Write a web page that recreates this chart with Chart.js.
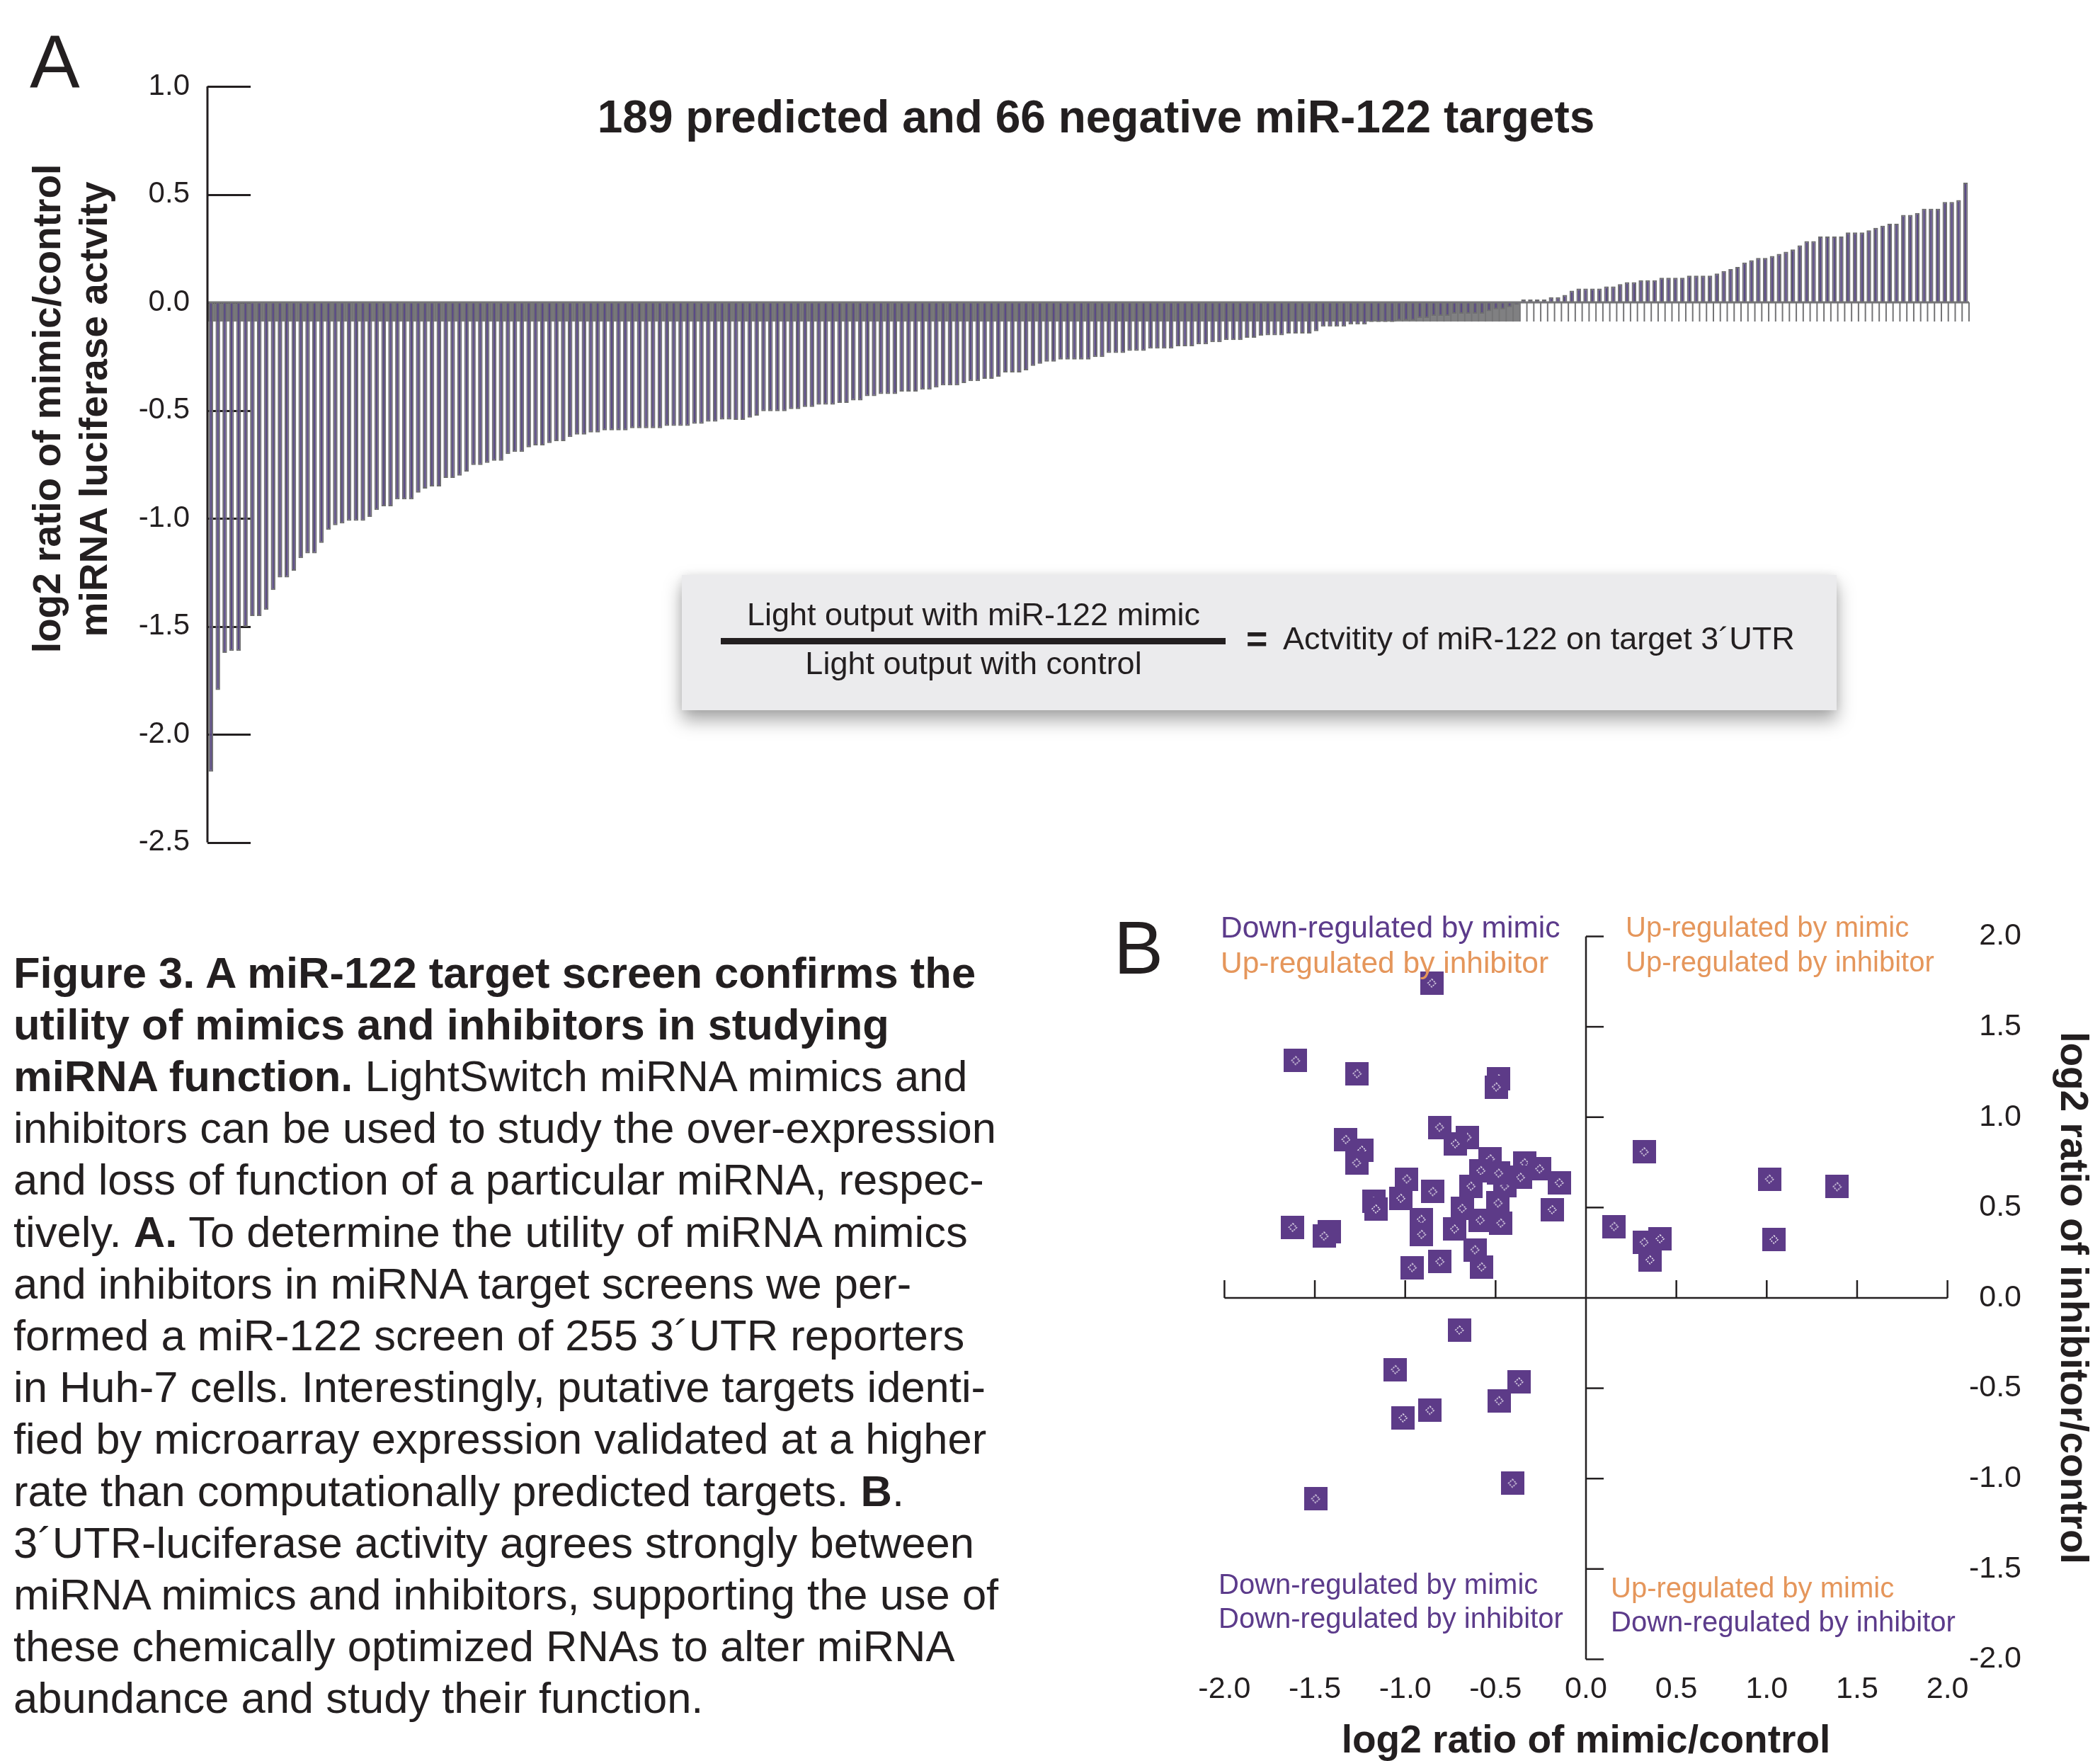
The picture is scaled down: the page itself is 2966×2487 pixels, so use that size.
<!DOCTYPE html>
<html>
<head>
<meta charset="utf-8">
<title>miR-122 target screen</title>
<script src="https://cdn.jsdelivr.net/npm/chart.js@4.4.1/dist/chart.umd.min.js"></script>
<style>
  html, body { margin: 0; padding: 0; background: #ffffff; }
  body {
    width: 2966px; height: 2487px; position: relative; overflow: hidden;
    font-family: 'Liberation Sans', Arial, Helvetica, sans-serif; color: #231f20;
  }
  .t { position: absolute; white-space: nowrap; line-height: 1; }
  canvas { position: absolute; }
  #formulaBox {
    position: absolute; left: 963px; top: 812px; width: 1631px; height: 191px;
    background: #ebebed;
    box-shadow: 0 14px 24px rgba(0,0,0,0.35), 0 0 14px rgba(0,0,0,0.08);
  }
  #fractionBar { position: absolute; left: 1018px; top: 901px; width: 713px; height: 9px; background: #231f20; }
</style>
</head>
<body>
<canvas id="chartA" width="2880" height="1240" style="left:0px; top:0px;"></canvas>
<canvas id="chartB" width="1416" height="1237" style="left:1550px; top:1250px;"></canvas>
<div id="formulaBox"></div>
<div id="fractionBar"></div>
<script>
// ---------- Panel A: 255 3'UTR reporters, log2(mimic/control), sorted ----------
const MIMIC_LOG2_A = [
  -2.172, -1.794, -1.622, -1.613, -1.613, -1.501, -1.452, -1.452, -1.423, -1.331,
  -1.273, -1.273, -1.242, -1.184, -1.162, -1.162, -1.113, -1.053, -1.031, -1.023,
  -1.011, -1.011, -1.011, -0.993, -0.961, -0.944, -0.944, -0.912, -0.912, -0.912,
  -0.881, -0.862, -0.852, -0.852, -0.813, -0.813, -0.802, -0.783, -0.753, -0.753,
  -0.743, -0.733, -0.733, -0.702, -0.692, -0.692, -0.671, -0.662, -0.662, -0.651,
  -0.642, -0.642, -0.623, -0.612, -0.612, -0.602, -0.602, -0.592, -0.592, -0.592,
  -0.592, -0.582, -0.582, -0.582, -0.582, -0.582, -0.572, -0.572, -0.572, -0.572,
  -0.562, -0.562, -0.552, -0.552, -0.542, -0.542,
  -0.544, -0.544, -0.533, -0.524, -0.504, -0.504, -0.504, -0.504, -0.494, -0.494,
  -0.484, -0.484, -0.473, -0.473, -0.473, -0.465, -0.465, -0.454, -0.454, -0.434,
  -0.434, -0.424, -0.424, -0.424, -0.413, -0.413, -0.413, -0.404, -0.404, -0.394,
  -0.384, -0.384, -0.384, -0.373, -0.364, -0.364, -0.354, -0.354, -0.344, -0.324,
  -0.324, -0.324, -0.314, -0.294, -0.284, -0.274, -0.274, -0.264, -0.264, -0.264,
  -0.264, -0.264, -0.253, -0.253, -0.234, -0.234, -0.234, -0.224, -0.224, -0.224,
  -0.214, -0.214, -0.214, -0.214, -0.203, -0.203, -0.203, -0.194, -0.194, -0.184,
  -0.184, -0.174, -0.174, -0.174, -0.164, -0.164, -0.154,
  -0.152, -0.152, -0.152, -0.144, -0.144, -0.144, -0.144, -0.133, -0.112, -0.112,
  -0.112, -0.112, -0.102, -0.102, -0.102, -0.091, -0.091, -0.091, -0.091, -0.083,
  -0.083, -0.083, -0.072, -0.072, -0.062, -0.062, -0.062, -0.052, -0.052, -0.052,
  -0.052, -0.052, -0.041, -0.032, -0.032, -0.022, -0.011,
  0.013, 0.013, 0.013, 0.013, 0.024, 0.024, 0.035, 0.054, 0.064, 0.064,
  0.064, 0.064, 0.074, 0.074, 0.085, 0.094, 0.094, 0.103, 0.103, 0.103,
  0.114, 0.114, 0.114, 0.114, 0.124, 0.124, 0.124, 0.124, 0.134, 0.145,
  0.154, 0.164, 0.185, 0.195, 0.206, 0.206, 0.215, 0.225, 0.235, 0.245,
  0.264, 0.284, 0.284, 0.305, 0.305, 0.305, 0.305, 0.324, 0.324, 0.324,
  0.334, 0.345, 0.355, 0.364, 0.364, 0.405, 0.405, 0.414, 0.434, 0.434,
  0.434, 0.465, 0.465, 0.474, 0.554
];
// one category per reporter, in rank order
const REPORTER_RANK = MIMIC_LOG2_A.map((_, i) => i + 1);
const Y_TICKS_A = [1.0, 0.5, 0.0, -0.5, -1.0, -1.5, -2.0, -2.5];

// ---------- Panel B: mimic vs inhibitor, log2 ratios ----------
const MIMIC_X_B = [
  -0.853, -1.606, -1.266, -0.483, -0.496,
  -0.810, -0.658, -0.723, -1.328, -1.240, -1.269,
  -0.529, -0.340, -0.256, -0.148, -0.581, -0.362, -0.636, -0.450, -0.483,
  -0.486, -0.585, -0.471, -0.685, -0.727,
  -0.991, -0.847, -1.024, -1.175, -1.162, -0.911, -0.909, -1.622, -1.418, -1.449,
  -0.187, -0.614, -0.577, -0.808, -0.961,
  0.322, 1.015, 1.390, 0.156, 0.322, 0.410, 0.354, 1.040,
  -0.700, -1.054, -0.371, -0.481, -0.863, -1.012, -0.407, -1.496
];
const INHIBITOR_Y_B = [
  1.742, 1.313, 1.241, 1.212, 1.167,
  0.944, 0.889, 0.853, 0.876, 0.817, 0.747,
  0.769, 0.747, 0.714, 0.637, 0.704, 0.667, 0.618, 0.619, 0.690,
  0.525, 0.430, 0.414, 0.495, 0.381,
  0.658, 0.588, 0.551, 0.534, 0.492, 0.434, 0.351, 0.390, 0.366, 0.342,
  0.488, 0.266, 0.171, 0.201, 0.168,
  0.808, 0.657, 0.615, 0.395, 0.308, 0.327, 0.210, 0.323,
  -0.178, -0.397, -0.465, -0.569, -0.622, -0.664, -1.026, -1.112
];
const X_TICKS_B = [-2.0, -1.5, -1.0, -0.5, 0.0, 0.5, 1.0, 1.5, 2.0];
const Y_TICKS_B = [-2.0, -1.5, -1.0, -0.5, 0.0, 0.5, 1.0, 1.5, 2.0];
const QUADRANT_LABELS = [
  ['Down-regulated by mimic', 'Up-regulated by inhibitor'],
  ['Up-regulated by mimic', 'Up-regulated by inhibitor'],
  ['Down-regulated by mimic', 'Down-regulated by inhibitor'],
  ['Up-regulated by mimic', 'Down-regulated by inhibitor']
];

const CAPTION_LINES = [
  '<b>Figure 3. A miR-122 target screen confirms the</b>',
  '<b>utility of mimics and inhibitors in studying</b>',
  '<b>miRNA function.</b> LightSwitch miRNA mimics and',
  'inhibitors can be used to study the over-expression',
  'and loss of function of a particular miRNA, respec-',
  'tively. <b>A.</b> To determine the utility of miRNA mimics',
  'and inhibitors in miRNA target screens we per-',
  'formed a miR-122 screen of 255 3\u00B4UTR reporters',
  'in Huh-7 cells. Interestingly, putative targets identi-',
  'fied by microarray expression validated at a higher',
  'rate than computationally predicted targets. <b>B</b>.',
  '3\u00B4UTR-luciferase activity agrees strongly between',
  'miRNA mimics and inhibitors, supporting the use of',
  'these chemically optimized RNAs to alter miRNA',
  'abundance and study their function.'
];

// ---------- styling ----------
const FONT = "'Liberation Sans', Arial, Helvetica, sans-serif";
const INK = '#231f20';
const PURPLE = '#5c3b8b';
const ORANGE = '#e5965b';
const POINT_FILL = '#5d3b88';
const BAR_FILL = '#5a4a85';
const BAR_EDGE = '#6e6e70';
const STUB = 27;

Chart.defaults.font.family = FONT;
Chart.defaults.color = INK;

function addText(content, opt) {
  const d = document.createElement('div');
  d.className = 't';
  if (opt.html) d.innerHTML = content; else d.textContent = content;
  d.style.fontSize = opt.size + 'px';
  d.style.fontWeight = opt.weight || 'normal';
  d.style.color = opt.color || INK;
  d.style.top = (opt.baseline - 0.8465 * opt.size) + 'px';
  d.style.left = opt.x + 'px';
  if (opt.align === 'center') d.style.transform = 'translateX(-50%)';
  else if (opt.align === 'right') d.style.transform = 'translateX(-100%)';
  document.body.appendChild(d);
  return d;
}
function addRotated(content, cx, cy, size, weight, deg) {
  const d = document.createElement('div');
  d.className = 't';
  d.textContent = content;
  d.style.fontSize = size + 'px';
  d.style.fontWeight = weight;
  d.style.left = cx + 'px';
  d.style.top = cy + 'px';
  d.style.transform = 'translate(-50%,-50%) rotate(' + deg + 'deg)';
  document.body.appendChild(d);
  return d;
}

// axis line, inward ticks, zero line and category stubs for panel A
const panelAAxes = {
  id: 'panelAAxes',
  beforeDatasetsDraw(chart) {
    const { ctx, chartArea: ca, scales: { x, y } } = chart;
    const y0 = y.getPixelForValue(0);
    const slot = x.getPixelForValue(1) - x.getPixelForValue(0);
    const negCount = MIMIC_LOG2_A.filter(v => v < 0).length;
    const xEnd = x.getPixelForValue(negCount - 1) + slot / 2;
    ctx.save();
    ctx.fillStyle = '#808082';
    ctx.fillRect(ca.left, y0, xEnd - ca.left, STUB);
    ctx.strokeStyle = INK;
    ctx.lineWidth = 3;
    Y_TICKS_A.forEach(v => {
      const py = Math.round(y.getPixelForValue(v)) + 0.5;
      ctx.beginPath(); ctx.moveTo(ca.left, py); ctx.lineTo(ca.left + 61, py); ctx.stroke();
    });
    ctx.restore();
  },
  afterDatasetsDraw(chart) {
    const { ctx, chartArea: ca, scales: { x, y } } = chart;
    const y0 = y.getPixelForValue(0);
    const slot = x.getPixelForValue(1) - x.getPixelForValue(0);
    ctx.save();
    ctx.strokeStyle = '#747476';
    ctx.lineWidth = 2;
    for (let i = 0; i <= MIMIC_LOG2_A.length; i++) {
      const bx = x.getPixelForValue(0) - slot / 2 + i * slot;
      ctx.beginPath(); ctx.moveTo(bx, y0); ctx.lineTo(bx, y0 + STUB); ctx.stroke();
    }
    ctx.lineWidth = 3;
    ctx.beginPath(); ctx.moveTo(ca.left, y0); ctx.lineTo(ca.right, y0); ctx.stroke();
    ctx.strokeStyle = INK;
    ctx.beginPath();
    ctx.moveTo(ca.left, y.getPixelForValue(Y_TICKS_A[0]));
    ctx.lineTo(ca.left, y.getPixelForValue(Y_TICKS_A[Y_TICKS_A.length - 1]));
    ctx.stroke();
    ctx.restore();
  }
};

new Chart(document.getElementById('chartA'), {
  type: 'bar',
  data: {
    labels: REPORTER_RANK,
    datasets: [{
      data: MIMIC_LOG2_A,
      backgroundColor: BAR_FILL,
      borderColor: BAR_EDGE,
      borderWidth: 2,
      barPercentage: 0.66,
      categoryPercentage: 1
    }]
  },
  options: {
    responsive: false,
    animation: false,
    devicePixelRatio: 1,
    layout: { padding: { left: 0, right: 99, top: 122, bottom: 45 } },
    plugins: { legend: { display: false }, tooltip: { enabled: false } },
    scales: {
      x: { display: false, offset: true },
      y: {
        min: -2.5, max: 1.0,
        afterBuildTicks: s => { s.ticks = Y_TICKS_A.map(v => ({ value: v })); },
        afterFit: s => { s.width = 293; },
        grid: { display: false, drawTicks: false },
        border: { display: false },
        ticks: { padding: 25, color: INK, font: { size: 42 }, callback: v => Number(v).toFixed(1) }
      }
    }
  },
  plugins: [panelAAxes]
});

// ---------- Panel B ----------
function makeMarker() {
  const c = document.createElement('canvas');
  c.width = 33; c.height = 33;
  const g = c.getContext('2d');
  g.fillStyle = POINT_FILL;
  g.fillRect(0, 0, 33, 33);
  g.strokeStyle = '#ffffff';
  g.lineWidth = 1.3;
  g.setLineDash([2.2, 1.6]);
  g.beginPath();
  g.moveTo(16.5, 11); g.lineTo(22, 16.5); g.lineTo(16.5, 22); g.lineTo(11, 16.5);
  g.closePath();
  g.stroke();
  return c;
}

// cross-shaped axes through the origin, ticks pointing inward
const panelBAxes = {
  id: 'panelBAxes',
  beforeDatasetsDraw(chart) {
    const { ctx, scales: { x, y } } = chart;
    const x0 = x.getPixelForValue(0), y0 = y.getPixelForValue(0);
    ctx.save();
    ctx.strokeStyle = INK;
    ctx.lineWidth = 2.5;
    ctx.beginPath();
    ctx.moveTo(x.getPixelForValue(X_TICKS_B[0]), y0);
    ctx.lineTo(x.getPixelForValue(X_TICKS_B[X_TICKS_B.length - 1]), y0);
    ctx.moveTo(x0, y.getPixelForValue(Y_TICKS_B[Y_TICKS_B.length - 1]));
    ctx.lineTo(x0, y.getPixelForValue(Y_TICKS_B[0]));
    ctx.stroke();
    X_TICKS_B.forEach(v => {
      if (v === 0) return;
      const px = x.getPixelForValue(v);
      ctx.beginPath(); ctx.moveTo(px, y0); ctx.lineTo(px, y0 - 25); ctx.stroke();
    });
    Y_TICKS_B.forEach(v => {
      if (v === 0) return;
      const py = y.getPixelForValue(v);
      ctx.beginPath(); ctx.moveTo(x0, py); ctx.lineTo(x0 + 25, py); ctx.stroke();
    });
    ctx.restore();
  }
};

const tickFontB = { size: 43 };
const B_WIDTH = 1416;            // canvas width
const B_RIGHT = 1200.6;          // right edge of plot area inside the canvas
const B_LABEL_RIGHT = 1305;      // right edge of the y tick labels (= right edge of the y scale box)
const B_TITLE_X = 1376;          // centre of the rotated y title

new Chart(document.getElementById('chartB'), {
  type: 'scatter',
  data: {
    datasets: [{
      data: MIMIC_X_B.map((v, i) => ({ x: v, y: INHIBITOR_Y_B[i] })),
      pointStyle: makeMarker(),
      pointRadius: 17,
      pointHoverRadius: 17
    }]
  },
  options: {
    responsive: false,
    animation: false,
    devicePixelRatio: 1,
    layout: { padding: { left: 179.4, right: B_WIDTH - B_LABEL_RIGHT, top: 72.5, bottom: 0 } },
    plugins: { legend: { display: false }, tooltip: { enabled: false } },
    scales: {
      x: {
        type: 'linear', position: 'bottom', min: -2, max: 2,
        afterBuildTicks: s => { s.ticks = X_TICKS_B.map(v => ({ value: v })); },
        afterFit: s => { s.height = 143.6; },
        grid: { display: false, drawTicks: false },
        border: { display: false },
        ticks: { padding: 17, color: INK, font: tickFontB, maxRotation: 0, autoSkip: false,
                 callback: v => Number(v).toFixed(1) },
        title: { display: true, text: 'log2 ratio of mimic/control', color: INK,
                 font: { size: 55, weight: 'bold', lineHeight: 1 }, padding: { top: 0, bottom: 0 } }
      },
      y: {
        type: 'linear', position: 'right', min: -2, max: 2,
        afterBuildTicks: s => { s.ticks = Y_TICKS_B.map(v => ({ value: v })); },
        afterFit: s => { s.width = B_LABEL_RIGHT - B_RIGHT; },
        grid: { display: false, drawTicks: false },
        border: { display: false },
        ticks: { crossAlign: 'far', padding: 0, color: INK,
                 font: tickFontB, autoSkip: false, callback: v => Number(v).toFixed(1) },
        title: { display: true, text: 'log2 ratio of inhibitor/control', color: INK,
                 font: { size: 55, weight: 'bold', lineHeight: 1 },
                 padding: { top: B_LABEL_RIGHT - B_TITLE_X - 27.5, bottom: 0 } }
      }
    }
  },
  plugins: [panelBAxes]
});

// ---------- text ----------
addText('A', { x: 42, baseline: 123, size: 106 });
addText('189 predicted and 66 negative miR-122 targets', { x: 1548, baseline: 187, size: 64, weight: 'bold', align: 'center' });
addRotated('log2 ratio of mimic/control', 66, 577, 55, 'bold', -90);
addRotated('miRNA luciferase actvity', 132, 578, 55, 'bold', -90);

addText('Light output with miR-122 mimic', { x: 1375, baseline: 883, size: 45, align: 'center' });
addText('Light output with control', { x: 1375, baseline: 952, size: 45, align: 'center' });
addText('=', { x: 1760, baseline: 920, size: 52, weight: 'bold' });
addText('Actvitity of miR-122 on target 3\u00B4UTR', { x: 1812, baseline: 917, size: 45 });

addText('B', { x: 1573, baseline: 1375, size: 105 });
const quadPos = [
  { x: 1724, b: [1325, 1375], c: [PURPLE, ORANGE], s: 42.5 },
  { x: 2296, b: [1323, 1372], c: [ORANGE, ORANGE], s: 40 },
  { x: 1721, b: [2251, 2299], c: [PURPLE, PURPLE], s: 40 },
  { x: 2275, b: [2256, 2304], c: [ORANGE, PURPLE], s: 40 }
];
QUADRANT_LABELS.forEach((lines, q) => {
  lines.forEach((txt, k) => addText(txt, { x: quadPos[q].x, baseline: quadPos[q].b[k], size: quadPos[q].s, color: quadPos[q].c[k] }));
});

CAPTION_LINES.forEach((line, k) => {
  addText(line, { x: 19, baseline: 1394.6 + 73.2 * k, size: 61.5, html: true });
});
</script>
</body>
</html>
